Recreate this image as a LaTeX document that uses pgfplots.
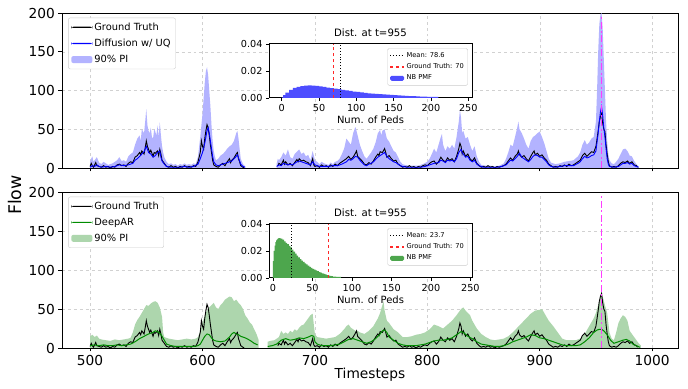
\documentclass[border=0pt]{standalone}
\usepackage{fontspec}
\setmainfont{DejaVu Sans}
\usepackage{pgfplots}
\pgfplotsset{compat=1.18}
\definecolor{bandblue}{RGB}{179,179,255}
\definecolor{bandgreen}{RGB}{173,214,173}
\definecolor{nbblue}{RGB}{77,77,255}
\definecolor{nbgreen}{RGB}{77,166,77}
\definecolor{dgreen}{RGB}{0,140,0}
\definecolor{vmag}{RGB}{255,60,255}
\definecolor{gtred}{RGB}{255,40,40}
\definecolor{pblue}{RGB}{0,0,255}
\pgfdeclareplotmark{vdash}{\pgfpathrectangle{\pgfpoint{-0.8bp}{-3.5bp}}{\pgfpoint{1.6bp}{7bp}}\pgfusepathqfill}
\pgfdeclareplotmark{vdot}{\pgfpathrectangle{\pgfpoint{-0.8bp}{-1bp}}{\pgfpoint{1.6bp}{2bp}}\pgfusepathqfill}
\pgfplotsset{
  mainax/.style={
    scale only axis, width=616bp,
    xmin=475, xmax=1023, ymin=0, ymax=200,
    xtick={500,600,...,1000}, ytick={0,50,...,200},
    grid=major, grid style={dashed, black!18, line width=0.4bp},
    tick pos=left, tick align=outside, major tick length=3.5bp,
    tick style={black, line width=0.8bp},
    axis line style={line width=0.8bp},
    /pgf/number format/assume math mode=true,
    /pgf/number format/1000 sep={},
    tick label style={font=\fontsize{13.8}{15}\selectfont},
    unbounded coords=jump,
    legend cell align=left,
    legend style={at={(0.01,0.97)}, anchor=north west, draw=black!20, fill=white, rounded corners=2bp, font=\fontsize{9.9}{11}\selectfont, row sep=3.2bp, inner sep=3bp},
  },
  lineleg/.style={legend image code/.code={\fill[##1, draw=none] (0bp,-0.6bp) rectangle (21bp,0.6bp);}},
  arealeg/.style={legend image code/.code={\fill[##1, draw=none] (0bp,-3.5bp) rectangle (21bp,3.5bp);}},
  sline/.style={legend image code/.code={\draw[##1] (0bp,0bp) -- (14bp,0bp);}},
  sarea/.style={legend image code/.code={\fill[##1, draw=none] (0bp,-2.5bp) rectangle (14bp,2.5bp);}},
  vline/.style={only marks, color=vmag, fill=vmag, mark options={color=vmag, fill=vmag, draw=none}, forget plot},
  insetax/.style={
    scale only axis, width=203bp, height=54bp,
    ymin=0, ymax=0.04,
    xtick={0,50,...,250}, ytick={0,0.02,0.04},
    scaled y ticks=false,
    yticklabel style={/pgf/number format/.cd, fixed, fixed zerofill, precision=2},
    tick pos=left, tick align=outside, major tick length=3bp,
    tick style={black, line width=0.8bp},
    axis line style={line width=1bp},
    axis background/.style={fill=white},
    /pgf/number format/assume math mode=true,
    tick label style={font=\fontsize{9.7}{10}\selectfont},
    title={Dist. at t=955}, title style={font=\fontsize{10.2}{11}\selectfont, yshift=-2bp},
    xlabel={Num. of Peds}, xlabel style={font=\fontsize{10}{11}\selectfont, at={(axis description cs:0.5,-0.41)}, anchor=center},
    legend cell align=left,
    legend style={at={(0.98,0.92)}, anchor=north east, draw=black!20, fill=white, rounded corners=1.5bp, font=\fontsize{6.7}{7.5}\selectfont, row sep=0.8bp, inner sep=2bp},
  },
}
\begin{document}
\begin{tikzpicture}
\useasboundingbox (0bp,0bp) rectangle (688bp,389bp);

% ---------------- TOP PANEL ----------------
\begin{axis}[mainax, at={(62bp,221bp)}, anchor=south west, height=155bp, xticklabels={}]
\addplot[color=bandblue, fill=bandblue, draw=none, forget plot] coordinates {
(500,8)(501,12)(502,15)(503,8)(504,10)(506,14)(508,7)(510,5)(512,8)(514,6)(516,4)(518,5)(520,6)(522,8)(524,10)(526,14)(528,9)(530,10)(532,8)(534,15)(536,18)(538,20)(540,30)(542,38)(544,42)(545,35)(546,50)(548,45)(549,60)(550,76)(551,55)(552,48)(553,45)(554,52)(555,40)(556,38)(557,50)(558,47)(559,42)(560,55)(561,40)(562,59)(563,42)(564,28)(565,20)(566,14)(568,8)(570,5)(572,6)(574,4)(576,5)(578,3)(580,5)(582,4)(584,6)(586,4)(588,5)(590,4)(592,6)(594,5)(596,15)(598,40)(599,55)(600,70)(601,90)(602,110)(603,125)(604,130)(605,120)(606,100)(607,80)(608,55)(609,35)(610,22)(611,15)(612,10)(614,12)(616,16)(618,18)(620,21)(622,25)(624,28)(626,30)(628,35)(629,40)(630,45)(631,48)(632,38)(633,25)(634,12)(636,5)(638,2)
} \closedcycle;
\addplot[color=bandblue, fill=bandblue, draw=none, forget plot] coordinates {
(666,6)(667,12)(668,10)(670,14)(672,20)(674,16)(676,24)(678,14)(680,12)(682,18)(684,21)(686,24)(688,18)(690,20)(692,15)(694,17)(696,10)(698,22)(700,10)(702,8)(704,5)(706,8)(708,6)(710,5)(712,4)(714,7)(716,5)(718,8)(720,9)(722,12)(724,18)(726,25)(728,38)(730,34)(732,30)(734,45)(736,53)(737,48)(738,42)(740,30)(742,22)(744,15)(746,12)(748,16)(750,20)(752,25)(754,33)(756,45)(758,49)(759,42)(760,48)(762,50)(764,38)(766,34)(768,28)(770,22)(772,20)(774,14)(776,8)(778,5)(780,4)(784,3)(788,3)(792,3)(796,5)(800,8)(802,12)(804,18)(806,25)(808,20)(810,30)(812,40)(813,44)(814,30)(816,22)(818,28)(820,25)(822,30)(824,25)(826,40)(828,60)(829,75)(830,65)(831,45)(832,48)(834,38)(836,40)(838,30)(840,22)(842,28)(844,15)(846,8)(848,4)(852,3)(856,3)(860,2)(864,3)(868,6)(870,12)(872,20)(874,30)(876,28)(878,40)(880,52)(881,60)(882,50)(884,45)(886,38)(888,30)(890,25)(892,35)(894,40)(896,42)(898,45)(900,47)(902,40)(904,32)(906,22)(908,12)(910,7)(914,5)(918,6)(922,8)(926,9)(930,10)(934,15)(936,20)(938,30)(940,36)(942,30)(944,33)(946,38)(948,40)(950,60)(951,100)(952,150)(953,185)(954,198)(955,200)(956,180)(957,140)(958,100)(959,60)(960,35)(961,18)(962,10)(964,6)(966,5)(968,8)(970,12)(972,18)(974,24)(976,25)(978,22)(980,16)(982,15)(984,9)(986,5)(988,2)
} \closedcycle;
\addplot[color=black, draw=black, line width=0.9bp, forget plot] coordinates {
(500,2)(501,6)(502,3)(503,1)(504,4)(505,7)(506,3)(508,2)(510,1)(512,3)(514,1)(516,2)(518,0)(520,2)(522,1)(524,4)(526,5)(528,3)(530,4)(532,2)(534,6)(536,8)(538,7)(540,14)(542,16)(544,20)(545,17)(546,22)(548,18)(549,26)(550,35)(551,28)(552,24)(553,20)(554,23)(556,15)(557,20)(558,19)(560,22)(561,16)(562,24)(563,18)(564,10)(566,6)(568,2)(570,1)(572,3)(574,1)(576,2)(578,0)(580,2)(582,1)(584,3)(586,1)(588,2)(590,1)(592,3)(594,2)(596,8)(598,20)(599,35)(600,28)(601,24)(602,38)(603,48)(604,56)(605,52)(606,42)(607,30)(608,20)(609,10)(610,4)(612,2)(614,1)(616,4)(618,6)(620,3)(622,8)(624,12)(625,7)(626,10)(628,13)(630,18)(631,20)(632,12)(633,8)(634,3)(636,1)(637,0)
(650,nan)
(667,3)(668,6)(670,4)(672,10)(673,5)(674,8)(676,4)(678,6)(680,3)(682,7)(684,11)(685,8)(686,12)(688,9)(690,10)(692,8)(694,7)(696,3)(698,12)(699,4)(700,2)(702,3)(704,1)(706,4)(708,2)(710,3)(712,1)(714,4)(716,2)(718,5)(720,3)(722,6)(724,8)(726,10)(728,12)(730,15)(732,11)(734,14)(736,19)(737,22)(738,15)(740,12)(742,9)(744,5)(746,4)(748,7)(750,5)(752,9)(754,14)(756,18)(757,16)(758,21)(760,20)(762,25)(763,20)(764,14)(766,16)(768,12)(770,9)(772,10)(774,5)(776,3)(778,1)(780,2)(782,1)(784,3)(786,1)(788,2)(790,0)(792,2)(794,1)(796,3)(798,4)(800,3)(802,6)(804,8)(806,9)(808,5)(810,8)(812,14)(814,10)(816,8)(818,13)(820,10)(822,12)(824,8)(826,15)(828,25)(829,32)(830,28)(831,18)(832,22)(834,15)(836,18)(838,12)(840,9)(842,13)(844,6)(846,3)(848,1)(850,2)(852,1)(854,3)(856,1)(858,2)(860,0)(862,2)(864,1)(866,2)(868,3)(870,5)(872,9)(874,13)(876,10)(878,15)(880,18)(881,22)(882,17)(884,14)(886,16)(888,12)(890,9)(892,15)(894,20)(895,22)(896,17)(898,19)(900,15)(902,17)(904,13)(906,10)(908,5)(910,3)(912,1)(914,2)(916,1)(918,3)(920,2)(922,4)(924,2)(926,5)(928,3)(930,4)(932,6)(934,8)(936,10)(938,16)(940,19)(942,15)(944,18)(946,21)(948,20)(950,28)(952,48)(953,60)(954,66)(955,70)(956,58)(957,50)(958,47)(959,30)(960,18)(961,8)(962,3)(964,1)(966,2)(968,1)(970,3)(972,6)(974,8)(976,7)(978,9)(980,6)(982,8)(984,4)(986,3)(987,1)
};
\addplot[color=pblue, draw=pblue, line width=0.9bp, forget plot] coordinates {
(500,1)(502,3)(504,2)(506,4)(508,2)(510,1)(514,2)(518,1)(522,2)(526,4)(530,3)(534,4)(538,6)(540,10)(542,12)(544,15)(546,18)(548,21)(550,28)(551,24)(552,20)(554,18)(556,14)(558,16)(560,20)(562,22)(563,14)(564,9)(566,5)(568,2)(572,1)(576,1)(580,1)(584,2)(588,1)(592,2)(596,5)(598,12)(600,20)(602,32)(604,48)(605,52)(606,45)(607,35)(608,25)(609,15)(610,8)(612,4)(614,3)(616,4)(618,5)(620,6)(622,7)(624,8)(626,9)(628,12)(630,15)(631,17)(632,13)(634,5)(636,2)(638,1)
(650,nan)
(666,2)(668,4)(670,3)(672,6)(674,5)(676,4)(678,5)(680,4)(682,6)(684,8)(686,9)(688,8)(690,7)(692,6)(694,5)(696,4)(698,8)(700,4)(704,2)(708,2)(712,2)(716,3)(720,3)(724,5)(728,8)(730,11)(732,10)(734,12)(736,15)(738,14)(740,10)(742,7)(744,4)(746,3)(748,5)(750,6)(752,8)(754,11)(756,14)(758,16)(760,18)(762,20)(764,15)(766,12)(768,10)(770,8)(772,7)(774,5)(776,3)(778,2)(782,1)(786,1)(790,1)(794,1)(798,2)(802,4)(806,6)(810,7)(812,10)(814,9)(816,7)(818,10)(820,9)(822,10)(824,8)(826,12)(828,20)(830,24)(831,20)(832,18)(834,14)(836,15)(838,10)(840,8)(842,10)(844,5)(846,3)(850,1)(854,1)(858,1)(862,1)(866,2)(870,4)(872,7)(874,10)(876,9)(878,12)(880,15)(882,19)(884,14)(886,12)(888,10)(890,8)(892,11)(894,15)(896,17)(898,16)(900,14)(902,14)(904,11)(906,8)(908,4)(910,2)(914,1)(918,2)(922,3)(926,3)(930,3)(934,6)(936,8)(938,12)(940,15)(942,13)(944,14)(946,16)(948,17)(950,22)(952,45)(953,60)(954,72)(955,79)(956,68)(957,52)(958,40)(959,25)(960,12)(961,5)(962,2)(966,1)(970,2)(972,4)(974,6)(976,6)(978,7)(980,5)(982,6)(984,3)(986,2)(988,1)
};
\addplot[vline, mark=vdash] coordinates {(955,4.5)(955,22.5)(955,40.5)(955,58.5)(955,76.5)(955,94.5)(955,112.5)(955,130.5)(955,148.5)(955,166.5)(955,184.5)};
\addplot[vline, mark=vdot] coordinates {(955,13.5)(955,31.5)(955,49.5)(955,67.5)(955,85.5)(955,103.5)(955,121.5)(955,139.5)(955,157.5)(955,175.5)(955,193.5)};
\addlegendimage{lineleg, color=black, fill=black}
\addlegendentry{Ground Truth}
\addlegendimage{lineleg, color=pblue, fill=pblue}
\addlegendentry{Diffusion w/ UQ}
\addlegendimage{arealeg, color=bandblue, fill=bandblue}
\addlegendentry{90\% PI}
\end{axis}

% ---------------- BOTTOM PANEL ----------------
\begin{axis}[mainax, at={(62bp,41bp)}, anchor=south west, height=156bp]
\addplot[color=bandgreen, fill=bandgreen, draw=none, forget plot] coordinates {
(500,15)(502,17)(504,14)(506,16)(508,12)(510,11)(514,10)(518,9)(522,11)(526,10)(530,11)(534,12)(536,13)(538,20)(540,30)(542,36)(544,40)(546,45)(548,50)(550,55)(552,54)(554,57)(556,59)(558,60)(560,58)(562,52)(564,40)(565,20)(566,14)(570,12)(574,11)(578,10)(582,11)(586,12)(590,11)(594,12)(596,14)(598,22)(600,32)(602,42)(604,48)(606,52)(608,55)(610,58)(612,52)(614,50)(616,55)(618,58)(620,62)(622,64)(624,66)(626,65)(628,60)(630,62)(632,58)(634,55)(636,50)(638,42)(640,38)(642,33)(644,30)(646,24)(648,18)(650,10)
} \closedcycle;
\addplot[color=bandgreen, fill=bandgreen, draw=none, forget plot] coordinates {
(658,8)(660,9)(664,10)(668,14)(670,22)(672,18)(674,20)(676,18)(678,22)(680,20)(682,24)(684,22)(686,26)(688,29)(690,30)(692,34)(694,38)(696,42)(698,44)(699,30)(700,18)(702,14)(706,13)(710,12)(714,13)(718,14)(722,18)(726,24)(728,28)(730,30)(732,26)(734,24)(736,22)(738,22)(740,20)(744,18)(748,22)(752,28)(756,38)(758,45)(760,55)(761,60)(762,48)(764,35)(766,32)(770,24)(774,20)(778,14)(782,14)(786,15)(790,17)(794,18)(798,20)(802,24)(806,30)(810,28)(814,25)(818,30)(822,35)(826,42)(830,50)(832,52)(834,48)(836,45)(838,42)(840,35)(844,25)(848,18)(852,14)(856,11)(860,10)(864,11)(868,12)(872,15)(876,20)(880,26)(884,32)(888,38)(892,44)(896,48)(900,49)(902,50)(904,45)(906,40)(908,35)(912,28)(916,20)(920,12)(924,10)(928,10)(932,10)(936,12)(940,18)(944,28)(948,38)(950,45)(952,55)(954,65)(955,68)(956,66)(958,55)(960,45)(962,20)(964,12)(966,10)(968,20)(970,32)(972,38)(974,42)(976,40)(978,35)(980,22)(982,18)(984,14)(986,10)(988,6)(990,3)
} \closedcycle;
\addplot[color=black, draw=black, line width=0.9bp, forget plot] coordinates {
(500,2)(501,6)(502,3)(503,1)(504,4)(505,7)(506,3)(508,2)(510,1)(512,3)(514,1)(516,2)(518,0)(520,2)(522,1)(524,4)(526,5)(528,3)(530,4)(532,2)(534,6)(536,8)(538,7)(540,14)(542,16)(544,20)(545,17)(546,22)(548,18)(549,26)(550,35)(551,28)(552,24)(553,20)(554,23)(556,15)(557,20)(558,19)(560,22)(561,16)(562,24)(563,18)(564,10)(566,6)(568,2)(570,1)(572,3)(574,1)(576,2)(578,0)(580,2)(582,1)(584,3)(586,1)(588,2)(590,1)(592,3)(594,2)(596,8)(598,20)(599,35)(600,28)(601,24)(602,38)(603,48)(604,56)(605,52)(606,42)(607,30)(608,20)(609,10)(610,4)(612,2)(614,1)(616,4)(618,6)(620,3)(622,8)(624,12)(625,7)(626,10)(628,13)(630,18)(631,20)(632,12)(633,8)(634,3)(636,1)(637,0)
(650,nan)
(667,3)(668,6)(670,4)(672,10)(673,5)(674,8)(676,4)(678,6)(680,3)(682,7)(684,11)(685,8)(686,12)(688,9)(690,10)(692,8)(694,7)(696,3)(698,12)(699,4)(700,2)(702,3)(704,1)(706,4)(708,2)(710,3)(712,1)(714,4)(716,2)(718,5)(720,3)(722,6)(724,8)(726,10)(728,12)(730,15)(732,11)(734,14)(736,19)(737,22)(738,15)(740,12)(742,9)(744,5)(746,4)(748,7)(750,5)(752,9)(754,14)(756,18)(757,16)(758,21)(760,20)(762,25)(763,20)(764,14)(766,16)(768,12)(770,9)(772,10)(774,5)(776,3)(778,1)(780,2)(782,1)(784,3)(786,1)(788,2)(790,0)(792,2)(794,1)(796,3)(798,4)(800,3)(802,6)(804,8)(806,9)(808,5)(810,8)(812,14)(814,10)(816,8)(818,13)(820,10)(822,12)(824,8)(826,15)(828,25)(829,32)(830,28)(831,18)(832,22)(834,15)(836,18)(838,12)(840,9)(842,13)(844,6)(846,3)(848,1)(850,2)(852,1)(854,3)(856,1)(858,2)(860,0)(862,2)(864,1)(866,2)(868,3)(870,5)(872,9)(874,13)(876,10)(878,15)(880,18)(881,22)(882,17)(884,14)(886,16)(888,12)(890,9)(892,15)(894,20)(895,22)(896,17)(898,19)(900,15)(902,17)(904,13)(906,10)(908,5)(910,3)(912,1)(914,2)(916,1)(918,3)(920,2)(922,4)(924,2)(926,5)(928,3)(930,4)(932,6)(934,8)(936,10)(938,16)(940,19)(942,15)(944,18)(946,21)(948,20)(950,28)(952,48)(953,60)(954,66)(955,70)(956,58)(957,50)(958,47)(959,30)(960,18)(961,8)(962,3)(964,1)(966,2)(968,1)(970,3)(972,6)(974,8)(976,7)(978,9)(980,6)(982,8)(984,4)(986,3)(987,1)
};
\addplot[color=dgreen, draw=dgreen, line width=1bp, forget plot] coordinates {
(500,3)(504,4)(508,3)(512,4)(516,3)(520,3)(524,4)(528,3)(532,4)(536,5)(540,8)(544,12)(548,15)(552,18)(556,20)(558,22)(560,21)(562,19)(564,15)(566,10)(568,5)(572,3)(576,2)(580,2)(584,2)(588,2)(592,2)(596,3)(598,5)(600,10)(602,15)(604,18)(606,17)(608,13)(610,10)(612,9)(616,8)(620,9)(624,14)(626,18)(628,20)(630,18)(632,17)(634,15)(638,13)(642,10)(646,6)(649,4)
(653,nan)
(658,2)(662,3)(666,5)(670,10)(674,12)(678,10)(682,11)(686,13)(690,12)(694,14)(697,16)(699,15)(700,8)(702,5)(706,3)(710,3)(714,3)(718,4)(722,5)(726,8)(730,11)(734,12)(738,10)(742,8)(746,6)(750,8)(754,12)(758,18)(760,22)(762,23)(764,20)(766,14)(770,10)(774,6)(778,4)(782,3)(786,3)(790,3)(794,4)(798,5)(802,7)(806,9)(810,10)(814,10)(818,11)(822,13)(826,17)(830,21)(832,20)(836,15)(840,12)(844,8)(848,5)(852,4)(856,3)(860,2)(864,2)(868,3)(872,5)(876,8)(880,10)(884,12)(888,14)(892,17)(896,16)(900,13)(904,12)(908,10)(912,8)(916,6)(920,4)(924,3)(928,3)(932,3)(936,4)(940,8)(944,13)(948,20)(951,23)(953,24)(955,24)(957,22)(960,17)(963,10)(966,6)(970,8)(974,10)(977,11)(980,9)(983,5)(986,3)(989,1)
};
\addplot[vline, mark=vdash] coordinates {(955,4.5)(955,22.5)(955,40.5)(955,58.5)(955,76.5)(955,94.5)(955,112.5)(955,130.5)(955,148.5)(955,166.5)(955,184.5)};
\addplot[vline, mark=vdot] coordinates {(955,13.5)(955,31.5)(955,49.5)(955,67.5)(955,85.5)(955,103.5)(955,121.5)(955,139.5)(955,157.5)(955,175.5)(955,193.5)};
\addlegendimage{lineleg, color=black, fill=black}
\addlegendentry{Ground Truth}
\addlegendimage{lineleg, color=dgreen, fill=dgreen}
\addlegendentry{DeepAR}
\addlegendimage{arealeg, color=bandgreen, fill=bandgreen}
\addlegendentry{90\% PI}
\end{axis}

% ---------------- TOP INSET ----------------
\begin{axis}[insetax, at={(269bp,291bp)}, anchor=south west, xmin=-17, xmax=255]
\addplot[const plot, color=nbblue, fill=nbblue, draw=none, forget plot] coordinates {
(0,0.0005)(2,0.0022)(5,0.0040)(10,0.0060)(15,0.0075)(20,0.0083)(25,0.0088)(30,0.0091)(35,0.0093)(40,0.0092)(45,0.0089)(50,0.0086)(55,0.0082)(60,0.0077)(65,0.0073)(70,0.0069)(75,0.0065)(80,0.0061)(85,0.0057)(90,0.0052)(95,0.0048)(100,0.0045)(105,0.0042)(110,0.0038)(115,0.0035)(120,0.0033)(125,0.0031)(130,0.0029)(135,0.0027)(140,0.0025)(145,0.0023)(150,0.0021)(155,0.0019)(160,0.0017)(165,0.0016)(170,0.0014)(175,0.0013)(180,0.0012)(185,0.0011)(190,0.0010)(195,0.0009)(200,0.0008)(205,0.0008)(210,0.0008)
} \closedcycle;
\addplot[color=black, draw=black, dotted, line width=0.9bp, forget plot] coordinates {(78.6,0)(78.6,0.04)};
\addplot[color=gtred, draw=gtred, dashed, line width=1.1bp, forget plot] coordinates {(70,0)(70,0.04)};
\addlegendimage{sline, color=black, draw=black, dotted, line width=0.9bp}
\addlegendentry{Mean: 78.6}
\addlegendimage{sline, color=gtred, draw=gtred, dashed, line width=1.1bp}
\addlegendentry{Ground Truth: 70}
\addlegendimage{sarea, color=nbblue, fill=nbblue}
\addlegendentry{NB PMF}
\end{axis}

% ---------------- BOTTOM INSET ----------------
\begin{axis}[insetax, at={(269bp,111bp)}, anchor=south west, xmin=-5, xmax=252]
\addplot[const plot, color=nbgreen, fill=nbgreen, draw=none, forget plot] coordinates {
(0,0.0125)(1,0.020)(2,0.024)(3,0.0265)(4,0.0278)(5,0.0287)(6,0.0292)(7,0.0295)(8,0.0296)(9,0.0294)(10,0.0291)(12,0.0284)(14,0.0272)(16,0.0260)(18,0.0250)(20,0.0238)(22,0.0226)(24,0.0210)(26,0.0195)(28,0.0180)(30,0.0165)(32,0.0152)(34,0.0140)(36,0.0129)(38,0.0119)(40,0.0109)(42,0.0100)(44,0.0091)(46,0.0083)(48,0.0075)(50,0.0068)(52,0.0062)(54,0.0056)(56,0.0050)(58,0.0044)(60,0.0039)(62,0.0034)(64,0.0030)(66,0.0026)(68,0.0022)(70,0.0018)(72,0.0015)(74,0.0013)(76,0.0011)(78,0.0010)(80,0.0009)(82,0.0008)(84,0.0008)(86,0.0008)
} \closedcycle;
\addplot[color=black, draw=black, dotted, line width=0.9bp, forget plot] coordinates {(23.7,0)(23.7,0.04)};
\addplot[color=gtred, draw=gtred, dashed, line width=1.1bp, forget plot] coordinates {(70,0)(70,0.04)};
\addlegendimage{sline, color=black, draw=black, dotted, line width=0.9bp}
\addlegendentry{Mean: 23.7}
\addlegendimage{sline, color=gtred, draw=gtred, dashed, line width=1.1bp}
\addlegendentry{Ground Truth: 70}
\addlegendimage{sarea, color=nbgreen, fill=nbgreen}
\addlegendentry{NB PMF}
\end{axis}

\node[rotate=90, font=\fontsize{17.5}{19}\selectfont] at (15bp,194bp) {Flow};
\node[font=\fontsize{13.8}{15}\selectfont] at (370bp,14bp) {Timesteps};
\end{tikzpicture}
\end{document}
